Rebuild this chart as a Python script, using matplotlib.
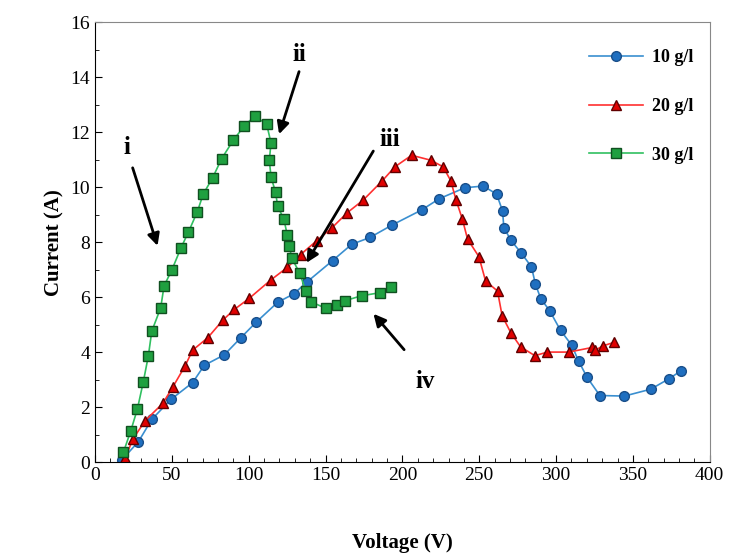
import matplotlib
matplotlib.use("Agg")
import matplotlib.pyplot as plt
from matplotlib.ticker import MultipleLocator

plt.rcParams['font.family'] = ['Liberation Serif', 'DejaVu Serif']

v10 = [17.3, 28.2, 36.9, 49.4, 63.5, 71.1, 84.1, 95.0, 104.7, 118.8, 129.4, 138.1, 154.6,
       167.0, 178.9, 193.2, 212.5, 224.0, 240.7, 252.6, 261.3, 265.2, 266.0, 270.6, 277.5,
       284.0, 286.6, 290.1, 295.9, 302.9, 310.2, 314.6, 320.2, 328.5, 344.5, 361.6, 373.5, 381.6]
i10 = [0.07, 0.74, 1.55, 2.28, 2.89, 3.52, 3.90, 4.53, 5.08, 5.81, 6.12, 6.56, 7.33,
       7.92, 8.17, 8.62, 9.17, 9.58, 9.98, 10.04, 9.75, 9.13, 8.53, 8.07, 7.59,
       7.10, 6.46, 5.94, 5.50, 4.79, 4.25, 3.68, 3.08, 2.42, 2.40, 2.65, 3.03, 3.33]

v20 = [19.5, 24.5, 32.5, 44.0, 50.5, 58.5, 63.5, 73.3, 83.1, 90.6, 100.2, 114.3, 125.1,
       133.8, 144.2, 154.3, 164.1, 174.5, 186.9, 195.1, 206.0, 218.5, 226.5, 231.5, 234.8,
       239.0, 242.4, 249.8, 254.1, 261.9, 264.9, 270.6, 276.9, 286.2, 294.4, 308.3, 323.7,
       325.6, 330.6, 337.6]
i20 = [0.13, 0.82, 1.50, 2.13, 2.72, 3.49, 4.07, 4.52, 5.16, 5.55, 5.95, 6.62, 7.08,
       7.55, 8.05, 8.53, 9.07, 9.53, 10.23, 10.74, 11.16, 10.98, 10.74, 10.23, 9.55,
       8.84, 8.11, 7.47, 6.59, 6.22, 5.32, 4.70, 4.19, 3.87, 4.00, 4.00, 4.17,
       4.07, 4.23, 4.35]

v30 = [18.4, 23.2, 27.5, 31.4, 34.7, 36.9, 42.7, 44.9, 49.9, 55.9, 60.7, 66.5, 70.4,
       76.5, 82.4, 90.0, 97.1, 104.1, 111.7, 114.5, 113.4, 114.5, 117.5, 118.8, 122.9,
       125.1, 126.4, 127.9, 133.3, 137.0, 140.5, 150.2, 157.2, 162.6, 173.5, 185.4, 192.5]
i30 = [0.35, 1.13, 1.92, 2.92, 3.87, 4.76, 5.61, 6.41, 6.98, 7.79, 8.36, 9.10, 9.75,
       10.34, 11.04, 11.71, 12.23, 12.59, 12.28, 11.61, 10.98, 10.37, 9.81, 9.31, 8.83,
       8.25, 7.87, 7.43, 6.86, 6.23, 5.83, 5.59, 5.71, 5.87, 6.05, 6.16, 6.35]

fig = plt.figure(figsize=(7.37, 5.56), dpi=100)
ax = fig.add_axes([0.129, 0.169, 0.834, 0.791])

ax.plot(v10, i10, '-o', color='#3a8fd0', mfc='#1f6fc0', mec='#1a4f8a', ms=7, lw=1.2, label='10 g/l')
ax.plot(v20, i20, '-^', color='#ff3030', mfc='#e00000', mec='#600000', ms=7, lw=1.2, label='20 g/l')
ax.plot(v30, i30, '-s', color='#30c060', mfc='#1fa040', mec='#105020', ms=6.5, lw=1.2, label='30 g/l')

ax.set_xlim(0, 400)
ax.set_ylim(0, 16)
ax.xaxis.set_major_locator(MultipleLocator(50))
ax.xaxis.set_minor_locator(MultipleLocator(10))
ax.yaxis.set_major_locator(MultipleLocator(2))
ax.yaxis.set_minor_locator(MultipleLocator(1))
ax.tick_params(which='both', direction='in', labelsize=14, top=False, right=False)
ax.tick_params(which='major', length=5)
ax.tick_params(which='minor', length=3)
for s in ('top', 'right'):
    ax.spines[s].set_color('#888888')
    ax.spines[s].set_linewidth(0.8)
ax.set_xlabel('Voltage (V)', fontsize=15, fontweight='bold', labelpad=35)
ax.set_ylabel('Current (A)', fontsize=15, fontweight='bold')

ax.legend(loc='upper right', frameon=False, prop={'weight': 'bold', 'size': 13},
          labelspacing=1.75, handlelength=3, handletextpad=0.5, bbox_to_anchor=(1.0, 0.975))

arrow = dict(arrowstyle='-|>', color='black', lw=2, mutation_scale=18)
fs = 18
ax.annotate('', xy=(41.2, 7.77), xytext=(23.9, 10.8), arrowprops=arrow)
ax.text(21, 11.2, 'i', fontsize=fs, fontweight='bold', ha='center')
ax.annotate('', xy=(119.2, 11.83), xytext=(133.3, 14.3), arrowprops=arrow)
ax.text(133, 14.6, 'ii', fontsize=fs, fontweight='bold', ha='center')
ax.annotate('', xy=(136.6, 7.16), xytext=(182, 11.4), arrowprops=arrow)
ax.text(192, 11.5, 'iii', fontsize=fs, fontweight='bold', ha='center')
ax.annotate('', xy=(180, 5.47), xytext=(202.3, 4.01), arrowprops=arrow)
ax.text(214.6, 2.7, 'iv', fontsize=fs, fontweight='bold', ha='center')

fig.savefig('out.png', dpi=100)
